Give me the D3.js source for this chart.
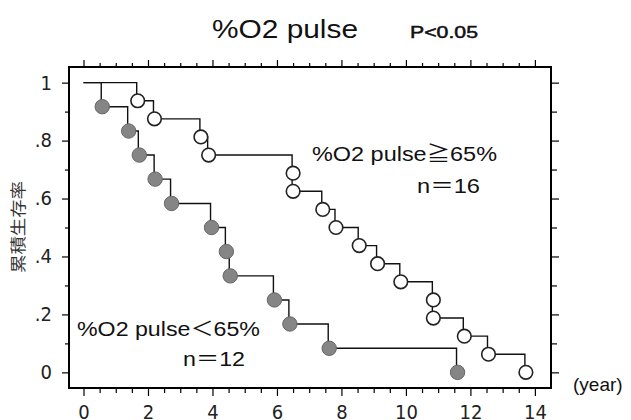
<!DOCTYPE html>
<html>
<head>
<meta charset="utf-8">
<script src="https://cdn.jsdelivr.net/npm/d3@7"></script>
<style>
  html, body { margin: 0; padding: 0; background: #fff; }
  svg { display: block; }
</style>
</head>
<body>
<svg id="chart" width="631" height="420"></svg>
<script>
// Kaplan-Meier survival by %O2 pulse group (years from start)
const lowTimes  = [0.55, 1.37, 1.70, 2.19, 2.70, 3.94, 4.40, 4.52, 5.89, 6.37, 7.59, 11.57];
const lowSurv   = [0.917, 0.833, 0.750, 0.667, 0.583, 0.500, 0.417, 0.333, 0.250, 0.167, 0.083, 0.000];
const highTimes = [1.65, 2.17, 3.61, 3.85, 6.47, 6.47, 7.39, 7.80, 8.52, 9.09, 9.81, 10.82, 10.82, 11.78, 12.53, 13.69];
const highSurv  = [0.9375, 0.875, 0.8125, 0.75, 0.6875, 0.625, 0.5625, 0.5, 0.4375, 0.375, 0.3125, 0.25, 0.1875, 0.125, 0.0625, 0.0];

const xTickValues = [0, 2, 4, 6, 8, 10, 12, 14];
const yTickValues = [0, 0.2, 0.4, 0.6, 0.8, 1];
const yTickLabels = ["0", ".2", ".4", ".6", ".8", "1"];

const title = "%O2 pulse";
const pLabel = "P<0.05";
const yTitle = "累積生存率";
const xUnit = "(year)";
const highLabel = ["%O2 pulse≧65%", "n＝16"];
const lowLabel  = ["%O2 pulse＜65%", "n＝12"];

const svg = d3.select("#chart");
const frame = { left: 69, right: 551, top: 67, bottom: 388 };

const x = d3.scaleLinear().domain([-0.45, 14.5]).range([frame.left, frame.right]);
const y = d3.scaleLinear().domain([-0.054, 1.054]).range([frame.bottom, frame.top]);

const numFont = "'Liberation Sans Narrow', 'DejaVu Sans Condensed', Arial, sans-serif";
const textFont = "'Liberation Sans', Arial, 'Noto Sans CJK JP', sans-serif";

// Axes: major ticks every 2 years / 0.2, minor ticks every 0.5 year / 0.1
const xMinor = d3.range(0, 14.01, 0.5).filter(v => v % 2 !== 0);
const yMinor = d3.range(0, 1.001, 0.1).filter(v => !yTickValues.some(t => Math.abs(t - v) < 1e-6));

function tickStyle(g) {
  g.select(".domain").remove();
  g.selectAll(".tick line").attr("stroke", "#000").attr("stroke-width", 1.2);
}

// bottom
svg.append("g").attr("transform", `translate(0,${frame.bottom})`)
  .call(d3.axisBottom(x).tickValues(xMinor).tickSize(5).tickFormat(""))
  .call(tickStyle);
const xAxis = svg.append("g").attr("transform", `translate(0,${frame.bottom})`)
  .call(d3.axisBottom(x).tickValues(xTickValues).tickSize(8).tickPadding(9).tickFormat(d3.format("d")))
  .call(tickStyle);
xAxis.selectAll("text").attr("font-family", numFont).attr("font-size", 20)
  .attr("fill", "#222").attr("dy", "0.71em");

// top
svg.append("g").attr("transform", `translate(0,${frame.top})`)
  .call(d3.axisTop(x).tickValues(xMinor).tickSize(4).tickFormat(""))
  .call(tickStyle);
svg.append("g").attr("transform", `translate(0,${frame.top})`)
  .call(d3.axisTop(x).tickValues(xTickValues).tickSize(7).tickFormat(""))
  .call(tickStyle);

// left
svg.append("g").attr("transform", `translate(${frame.left},0)`)
  .call(d3.axisLeft(y).tickValues(yMinor).tickSize(4).tickFormat(""))
  .call(tickStyle);
const yAxis = svg.append("g").attr("transform", `translate(${frame.left},0)`)
  .call(d3.axisLeft(y).tickValues(yTickValues).tickSize(7).tickPadding(10)
    .tickFormat((d, i) => yTickLabels[i]))
  .call(tickStyle);
yAxis.selectAll("text").attr("font-family", numFont).attr("font-size", 20).attr("fill", "#222");

// right
svg.append("g").attr("transform", `translate(${frame.right},0)`)
  .call(d3.axisRight(y).tickValues(yMinor).tickSize(6).tickFormat(""))
  .call(tickStyle);
svg.append("g").attr("transform", `translate(${frame.right},0)`)
  .call(d3.axisRight(y).tickValues(yTickValues).tickSize(8).tickFormat(""))
  .call(tickStyle);

// plot frame
svg.append("rect")
  .attr("x", frame.left).attr("y", frame.top)
  .attr("width", frame.right - frame.left).attr("height", frame.bottom - frame.top)
  .attr("fill", "none").attr("stroke", "#000").attr("stroke-width", 2);

// survival step curves
const step = d3.line().x(d => x(d[0])).y(d => y(d[1])).curve(d3.curveStepAfter);
function curvePoints(times, surv) {
  return [[0, 1]].concat(times.map((t, i) => [t, surv[i]]));
}

svg.append("path").datum(curvePoints(lowTimes, lowSurv))
  .attr("d", step).attr("fill", "none").attr("stroke", "#111").attr("stroke-width", 1.4);
svg.append("path").datum(curvePoints(highTimes, highSurv))
  .attr("d", step).attr("fill", "none").attr("stroke", "#111").attr("stroke-width", 1.4);

// event markers
svg.append("g").selectAll("circle")
  .data(lowTimes.map((t, i) => [t, lowSurv[i]]))
  .join("circle")
  .attr("cx", d => x(d[0]) + 1).attr("cy", d => y(d[1]))
  .attr("r", 7.2).attr("fill", "#858585").attr("stroke", "#666").attr("stroke-width", 1);

svg.append("g").selectAll("circle")
  .data(highTimes.map((t, i) => [t, highSurv[i]]))
  .join("circle")
  .attr("cx", d => x(d[0]) + 1).attr("cy", d => y(d[1]))
  .attr("r", 6.8).attr("fill", "#fff").attr("stroke", "#222").attr("stroke-width", 1.6);

// titles and labels
svg.append("text").attr("x", 212).attr("y", 38)
  .attr("font-family", textFont).attr("font-size", 25).attr("fill", "#111")
  .attr("textLength", 146).attr("lengthAdjust", "spacingAndGlyphs")
  .text(title);
svg.append("text").attr("x", 410).attr("y", 38)
  .attr("font-family", textFont).attr("font-size", 17).attr("fill", "#111")
  .attr("stroke", "#111").attr("stroke-width", 0.5)
  .attr("textLength", 68).attr("lengthAdjust", "spacingAndGlyphs")
  .text(pLabel);

svg.append("text")
  .attr("transform", "translate(24,227) rotate(-90)")
  .attr("text-anchor", "middle")
  .attr("font-family", "'Noto Sans CJK JP', sans-serif").attr("font-size", 16).attr("fill", "#333")
  .attr("textLength", 92).attr("lengthAdjust", "spacingAndGlyphs")
  .text(yTitle);

svg.append("text").attr("x", 573).attr("y", 391)
  .attr("font-family", textFont).attr("font-size", 19).attr("fill", "#111")
  .text(xUnit);

function groupLabel(lines, x0, y0, x1, y1, w0, w1) {
  svg.append("text").attr("x", x0).attr("y", y0)
    .attr("font-family", textFont).attr("font-size", 20).attr("fill", "#111")
    .attr("textLength", w0).attr("lengthAdjust", "spacingAndGlyphs")
    .text(lines[0]);
  svg.append("text").attr("x", x1).attr("y", y1)
    .attr("font-family", textFont).attr("font-size", 20).attr("fill", "#111")
    .attr("textLength", w1).attr("lengthAdjust", "spacingAndGlyphs")
    .text(lines[1]);
}
groupLabel(highLabel, 312, 161, 417, 193, 185, 63);
groupLabel(lowLabel, 77, 336, 183, 366, 183, 62);
</script>
</body>
</html>
